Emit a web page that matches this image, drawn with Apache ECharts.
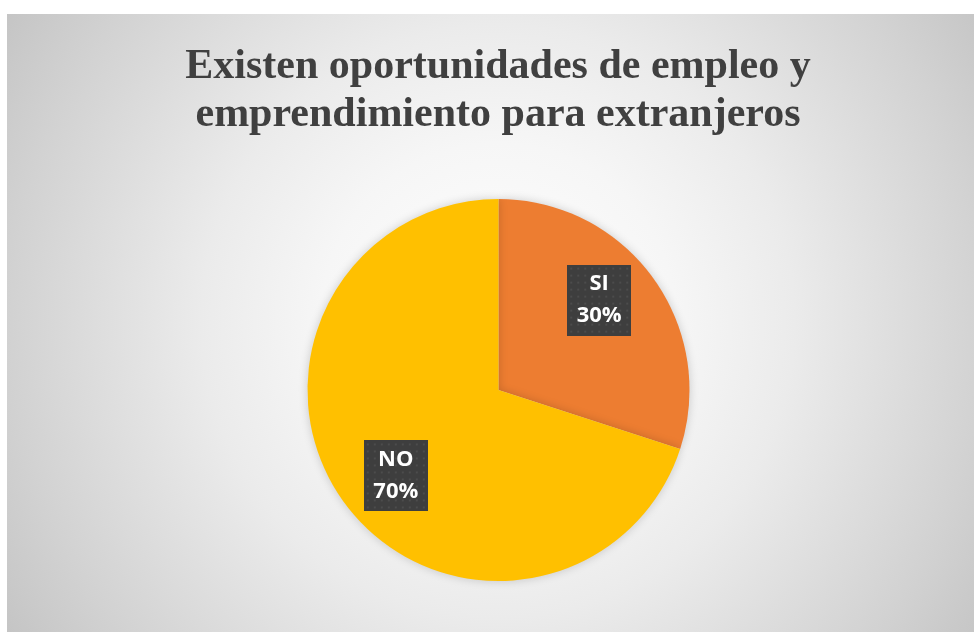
<!DOCTYPE html>
<html>
<head>
<meta charset="utf-8">
<script src="https://cdn.jsdelivr.net/npm/echarts@6/dist/echarts.min.js"></script>
<style>
  html, body { margin: 0; padding: 0; background: #ffffff; overflow: hidden; width: 974px; height: 632px; }
  #chart {
    position: absolute; left: 7px; top: 14px; width: 982px; height: 640px;
    background: radial-gradient(circle farthest-corner at 50% 48%, #ffffff 0%, #f6f6f6 30%, #ebebeb 50%, #d2d2d2 82%, #c3c3c3 100%);
  }
</style>
</head>
<body>
<div id="chart"></div>
<script>
const titleLines = ['Existen oportunidades de empleo y', 'emprendimiento para extranjeros'];
const categories = ['SI', 'NO'];
const values = [30, 70];
const colors = ['#ED7D31', '#FFC000'];
const labelOffsets = [[21, -32], [-23, 28]];

function makePattern(w, h) {
  const c = document.createElement('canvas');
  c.width = w; c.height = h;
  const ctx = c.getContext('2d');
  ctx.fillStyle = '#3e3e3e';
  ctx.fillRect(0, 0, w, h);
  ctx.fillStyle = '#4c4c4c';
  for (let y = 3; y < h; y += 7) {
    for (let x = 3; x < w; x += 7) {
      ctx.fillRect(x, y, 2, 2);
    }
  }
  return c;
}
const pattern = makePattern(64, 71);

const chart = echarts.init(document.getElementById('chart'), null, { renderer: 'canvas' });
chart.setOption({
  animation: false,
  title: {
    text: titleLines.join('\n'),
    left: 'center',
    top: 24,
    textStyle: {
      fontFamily: '"Liberation Serif", "Times New Roman", serif',
      fontWeight: 'bold',
      fontSize: 42,
      lineHeight: 48,
      color: '#404040'
    }
  },
  series: [{
    type: 'pie',
    center: [491.5, 376],
    radius: [0, 191],
    startAngle: 90,
    clockwise: true,
    itemStyle: {
      borderWidth: 0,
      shadowBlur: 10,
      shadowColor: 'rgba(0,0,0,0.18)'
    },
    label: {
      show: true,
      position: 'inside',
      rotate: 0,
      formatter: p => p.name + '\n' + Math.round(p.percent) + '%',
      fontFamily: '"Open Sans", "Liberation Sans", sans-serif',
      fontWeight: 'bold',
      fontSize: 22,
      lineHeight: 32,
      color: '#ffffff',
      align: 'center',
      width: 64,
      padding: [4, 0, 3, 0],
      backgroundColor: { image: pattern },
      shadowColor: 'rgba(0,0,0,0.5)',
      shadowBlur: 5,
      shadowOffsetX: 3,
      shadowOffsetY: 3
    },
    labelLine: { show: false },
    emphasis: { disabled: true },
    data: categories.map((c, i) => ({
      name: c,
      value: values[i],
      itemStyle: { color: colors[i] },
      label: { offset: labelOffsets[i] }
    }))
  }]
});
</script>
</body>
</html>
